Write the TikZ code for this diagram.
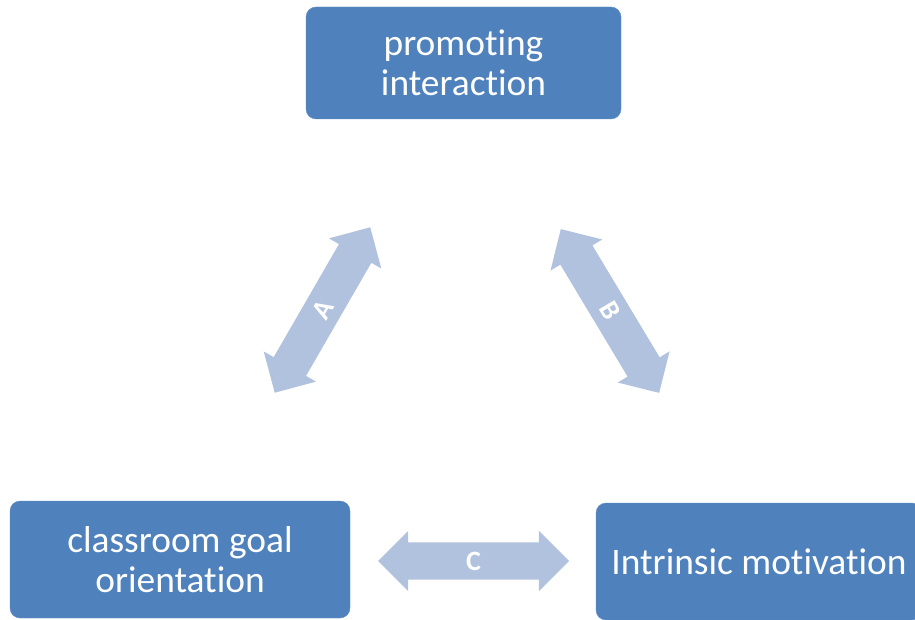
\documentclass[tikz,border=0pt]{standalone}
\usepackage{fontspec}
\setmainfont{Carlito}[Ligatures=NoCommon]
\usetikzlibrary{shapes.arrows}
\definecolor{boxblue}{HTML}{4F81BD}
\definecolor{arrowblue}{HTML}{B1C2DE}
\begin{document}
\begin{tikzpicture}[x=1pt,y=1pt,
  box/.style={fill=boxblue,draw=boxblue!90!white,rounded corners=10pt,
    text=white,align=center,font=\fontsize{37.4}{40}\selectfont,inner sep=0pt},
  link/.style={double arrow,fill=arrowblue,draw=none,text=white,
    font=\bfseries\fontsize{28}{30}\selectfont,
    minimum height=191pt,text height=18pt,text depth=0pt,
    inner xsep=0pt,inner ysep=9.5pt,
    double arrow head extend=11.5pt,double arrow tip angle=90}]
  \useasboundingbox (0,0) rectangle (915,619);

  \node[box,minimum width=315pt,minimum height=112pt] (promo) at (463.5,556)
    {promoting\\interaction};
  \node[box,minimum width=340pt,minimum height=117pt] (goal) at (180,59.5)
    {classroom goal\\orientation};
  \node[box,minimum width=326pt,minimum height=117pt] (motiv) at (759,57.5)
    {Intrinsic motivation};

  \node[link,rotate=60] (linkA) at (322.5,309) {A};
  \node[link,rotate=-59] (linkB) at (610,308) {B};
  \node[link] (linkC) at (473.5,58) {C};
\end{tikzpicture}
\end{document}
